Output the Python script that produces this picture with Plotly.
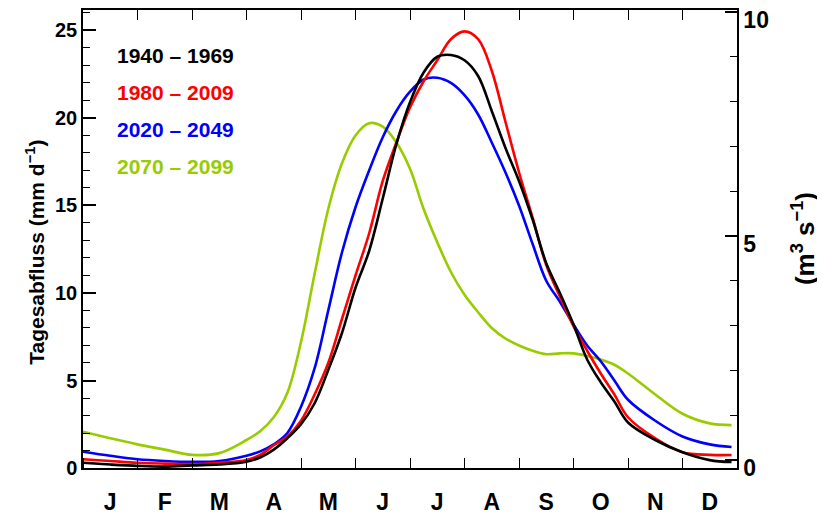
import plotly.graph_objects as go

# x positions in months (0 = 1 Jan, 12 = 31 Dec)
months_x = [0, 0.5, 1, 1.5, 2, 2.5, 3, 3.25, 3.5, 3.75, 4, 4.25, 4.5, 4.75, 5, 5.25,
            5.5, 5.75, 6, 6.25, 6.5, 6.75, 7, 7.25, 7.5, 7.75, 8, 8.25, 8.5, 8.75,
            9, 9.25, 9.5, 9.75, 10, 10.5, 11, 11.5, 11.9]

q_1940_1969 = [0.3, 0.2, 0.12, 0.08, 0.15, 0.2, 0.36, 0.6, 1.05, 1.7, 2.5, 3.7, 5.6, 7.7,
               10.3, 12.4, 15.4, 18.5, 20.9, 22.6, 23.5, 23.6, 23.3, 22.4, 20.4, 18.3,
               16.4, 14.2, 11.7, 10.0, 8.2, 6.2, 4.9, 3.8, 2.6, 1.6, 0.9, 0.45, 0.34]
q_1980_2009 = [0.5, 0.4, 0.3, 0.25, 0.22, 0.3, 0.46, 0.75, 1.3, 1.8, 2.7, 4.2, 6.0, 8.5,
               11.0, 13.4, 16.4, 18.6, 20.6, 22.1, 23.3, 24.5, 24.95, 24.5, 22.7, 19.8,
               16.9, 14.3, 11.6, 9.8, 8.1, 6.7, 5.4, 4.2, 2.9, 1.7, 0.9, 0.75, 0.74]
q_2020_2049 = [0.93, 0.7, 0.5, 0.4, 0.35, 0.4, 0.7, 0.95, 1.35, 2.0, 3.5, 5.7, 9.0, 12.3,
               14.9, 17.0, 18.9, 20.4, 21.5, 22.2, 22.3, 22.0, 21.3, 20.2, 18.6, 16.9,
               15.0, 12.8, 10.7, 9.5, 8.2, 7.0, 6.1, 5.0, 3.9, 2.7, 1.8, 1.35, 1.2]
q_2070_2099 = [2.07, 1.7, 1.35, 1.05, 0.75, 0.85, 1.6, 2.1, 2.9, 4.3, 7.2, 11.1, 14.8, 17.4,
               19.0, 19.7, 19.5, 18.6, 17.1, 14.8, 12.9, 11.2, 9.9, 8.9, 8.0, 7.4,
               7.0, 6.7, 6.5, 6.55, 6.55, 6.4, 6.2, 5.9, 5.4, 4.2, 3.1, 2.55, 2.45]

series_names = ["1940 – 1969", "1980 – 2009", "2020 – 2049", "2070 – 2099"]
series_values = [q_1940_1969, q_1980_2009, q_2020_2049, q_2070_2099]
series_colors = ["#000000", "#ff0000", "#0000ff", "#99cc00"]

month_labels = ["J", "F", "M", "A", "M", "J", "J", "A", "S", "O", "N", "D"]
month_centers = [i + 0.5 for i in range(12)]
month_bounds = list(range(13))

left_ticks = [0, 5, 10, 15, 20, 25]
right_ticks = [0, 5, 10]

FONT = "Liberation Sans, Arial, sans-serif"

fig = go.Figure()
draw_order = [3, 2, 1, 0]
for i in draw_order:
    fig.add_trace(go.Scatter(x=months_x, y=series_values[i], mode="lines",
                             line=dict(color=series_colors[i], width=2.6, shape="spline", smoothing=1.0),
                             name=series_names[i], showlegend=False, hoverinfo="skip"))

# dummy traces so the right and top axes are drawn
fig.add_trace(go.Scatter(x=[None], y=[None], yaxis="y2", showlegend=False, hoverinfo="skip"))
fig.add_trace(go.Scatter(x=[None], y=[None], xaxis="x2", showlegend=False, hoverinfo="skip"))

legend_y = [0.900, 0.819, 0.738, 0.659]
for name, col, yy in zip(series_names, series_colors, legend_y):
    fig.add_annotation(text="<b>%s</b>" % name, x=0.049, y=yy, xref="paper", yref="paper",
                       xanchor="left", yanchor="middle", showarrow=False,
                       font=dict(family=FONT, size=21, color=col))

fig.add_annotation(text="<b>Tagesabfluss (mm d<sup>−1</sup>)</b>", x=-0.0734, y=0.472,
                   xref="paper", yref="paper", textangle=-90, showarrow=False,
                   xanchor="center", yanchor="middle",
                   font=dict(family=FONT, size=21, color="black"))
fig.add_annotation(text="<b>(m<sup>3</sup> s<sup>−1</sup>)</b>", x=1.101, y=0.5,
                   xref="paper", yref="paper", textangle=-90, showarrow=False,
                   xanchor="center", yanchor="middle",
                   font=dict(family=FONT, size=26, color="black"))

fig.update_layout(
    width=817, height=507,
    margin=dict(l=75, r=88, t=2, b=47),
    paper_bgcolor="white", plot_bgcolor="white",
    font=dict(family=FONT, color="black"),
    xaxis=dict(range=[0, 12], tickmode="array", tickvals=month_centers, ticktext=month_labels,
               ticks="", showgrid=False, zeroline=False, showline=True, linecolor="black",
               linewidth=1.5, mirror=True, automargin=False, ticklabeloverflow="allow",
               tickfont=dict(family=FONT, size=23, color="black", weight="bold"),
               ticklabelstandoff=13,
               minor=dict(tickmode="array", tickvals=month_bounds, ticks="inside", ticklen=10,
                          tickcolor="black", tickwidth=1.3, showgrid=False)),
    xaxis2=dict(range=[0, 12], overlaying="x", side="top", tickmode="array",
                tickvals=month_bounds, ticks="inside", ticklen=10, tickwidth=1.3,
                tickcolor="black", showticklabels=False, showgrid=False, zeroline=False,
                showline=False, automargin=False),
    yaxis=dict(range=[0, 26.17], tickmode="array", tickvals=left_ticks, ticks="inside",
               ticklen=13, tickwidth=1.5, tickcolor="black", showgrid=False, zeroline=False,
               showline=True, linecolor="black", linewidth=1.5, mirror=True, automargin=False,
               ticklabeloverflow="allow",
               tickfont=dict(family=FONT, size=20, color="black", weight="bold"),
               minor=dict(dtick=1, tick0=0, ticks="inside", ticklen=7, tickcolor="black",
                          tickwidth=1.3, showgrid=False)),
    yaxis2=dict(range=[-0.18, 10.04], overlaying="y", side="right", tickmode="array",
                tickvals=right_ticks, ticks="inside", ticklen=12, tickwidth=1.5,
                tickcolor="black", showgrid=False, zeroline=False, showline=True,
                linecolor="black", linewidth=1.5, automargin=False,
                ticklabeloverflow="allow", ticklabelshift=8,
                tickfont=dict(family=FONT, size=23, color="black", weight="bold"),
                minor=dict(dtick=1, tick0=0, ticks="inside", ticklen=7, tickcolor="black",
                           tickwidth=1.3, showgrid=False)),
)

fig.write_html("out.html")
